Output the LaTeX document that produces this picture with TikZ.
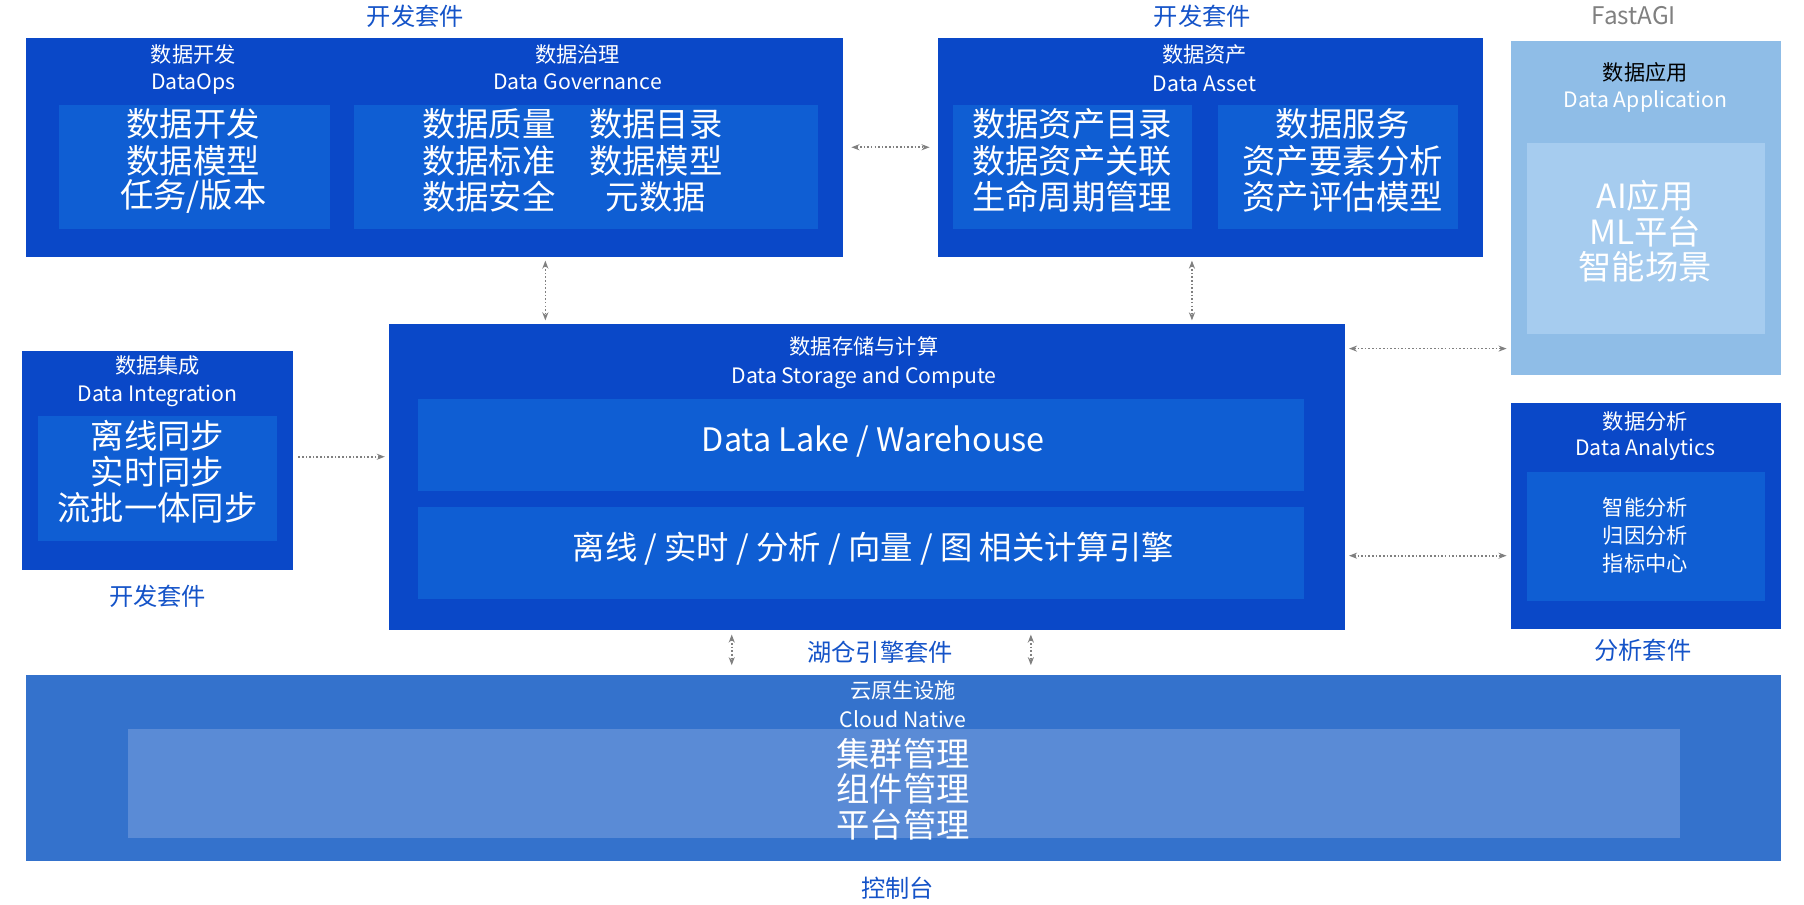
\documentclass[tikz,border=0pt]{standalone}
\usepackage{fontspec}
\setmainfont{Noto Sans CJK SC}
\usetikzlibrary{arrows.meta}
\definecolor{outerblue}{HTML}{0A48C8}
\definecolor{innerblue}{HTML}{0F5ED3}
\definecolor{cloudblue}{HTML}{3472CC}
\definecolor{cloudinner}{HTML}{5A8BD6}
\definecolor{agiblue}{HTML}{8FBDE7}
\definecolor{agiinner}{HTML}{A6CCEF}
\definecolor{labelblue}{HTML}{1453C8}
\tikzset{
  outer/.style={fill=outerblue, draw=none, inner sep=0pt, outer sep=0pt},
  inner/.style={fill=innerblue, draw=none, inner sep=0pt, outer sep=0pt},
  title/.style={text=white, font=\fontsize{10.5}{12}\selectfont},
  big/.style={text=white, font=\fontsize{16.5}{18}\selectfont},
  mid/.style={text=white, font=\fontsize{16}{18}\selectfont},
  small/.style={text=white, font=\fontsize{10.5}{12}\selectfont},
  kit/.style={text=labelblue, font=\fontsize{12}{14}\selectfont},
  link/.style={densely dotted, gray, thick, {Stealth[length=4pt]}-{Stealth[length=4pt]}, shorten >=2pt, shorten <=2pt},
}
\newcommand\blk[6]{\node[#2, minimum width={(#5-#3)*0.02cm}, minimum height={(#6-#4)*0.02cm}] (#1) at ({(#3+#5)/2},{(#4+#6)/2}) {};}
\begin{document}
\begin{tikzpicture}[x=0.02cm, y=-0.02cm]
\useasboundingbox (0,0) rectangle (1568,786);
% development kit
\blk{dev}{outer}{23}{33}{733}{223}
\blk{devin}{inner}{51}{91}{287}{199}
\blk{govin}{inner}{308}{91}{711}{199}
\node[kit] (kdev) at (361,14) {开发套件};
\node[title] (t1) at (168,47) {数据开发};
\node[title] (t2) at (168,73) {DataOps};
\node[title] (t3) at (502,47) {数据治理};
\node[title] (t4) at (502,71) {Data Governance};
\node[big] (d1) at (168,108) {数据开发};
\node[big] (d2) at (168,140) {数据模型};
\node[big] (d3) at (168,171) {任务/版本};
\node[big] (g1) at (425,108) {数据质量};
\node[big] (g2) at (425,140) {数据标准};
\node[big] (g3) at (425,171) {数据安全};
\node[big] (g4) at (570,108) {数据目录};
\node[big] (g5) at (570,140) {数据模型};
\node[big] (g6) at (570,171) {元数据};
% data asset
\blk{asset}{outer}{815}{33}{1289}{223}
\blk{assin1}{inner}{828}{91}{1036}{199}
\blk{assin2}{inner}{1059}{91}{1267}{199}
\node[kit] (kass) at (1045,14) {开发套件};
\node[title] (t5) at (1047,47) {数据资产};
\node[title] (t6) at (1047,73) {Data Asset};
\node[big] (a1) at (932,108) {数据资产目录};
\node[big] (a2) at (932,140) {数据资产关联};
\node[big] (a3) at (932,171) {生命周期管理};
\node[big] (a4) at (1167,108) {数据服务};
\node[big] (a5) at (1167,140) {资产要素分析};
\node[big] (a6) at (1167,171) {资产评估模型};
% fastagi
\blk{agi}{fill=agiblue, inner sep=0pt, outer sep=0pt}{1313}{36}{1548}{326}
\blk{agiin}{fill=agiinner, inner sep=0pt, outer sep=0pt}{1327}{124}{1534}{290}
\node[text=gray, font=\fontsize{12}{14}\selectfont] (kagi) at (1420,14) {FastAGI};
\node[font=\fontsize{10.5}{12}\selectfont] (t7) at (1430,63) {数据应用};
\node[title] (t8) at (1430,88) {Data Application};
\node[big] (f1) at (1430,170) {AI应用};
\node[big] (f2) at (1430,201) {ML平台};
\node[big] (f3) at (1430,232) {智能场景};
% integration
\blk{integ}{outer}{19}{305}{255}{495}
\blk{integin}{inner}{33}{362}{241}{470}
\node[title] (t9) at (137,318) {数据集成};
\node[title] (t10) at (137,344) {Data Integration};
\node[big] (i1) at (137,379) {离线同步};
\node[big] (i2) at (137,410) {实时同步};
\node[big] (i3) at (137,441) {流批一体同步};
\node[kit] (kint) at (137,518) {开发套件};
% storage and compute
\blk{store}{outer}{338}{282}{1169}{548}
\blk{lake}{inner}{363}{347}{1133}{427}
\blk{engine}{inner}{363}{441}{1133}{521}
\node[title] (t11) at (751,301) {数据存储与计算};
\node[title] (t12) at (751,328) {Data Storage and Compute};
\node[mid] (l1) at (759,384) {Data Lake / Warehouse};
\node[mid] (e1) at (759,477) {离线 / 实时 / 分析 / 向量 / 图 相关计算引擎};
\node[kit] (klake) at (765,567) {湖仓引擎套件};
% analytics
\blk{ana}{outer}{1313}{350}{1548}{547}
\blk{anain}{inner}{1327}{410}{1534}{522}
\node[title] (t13) at (1430,366) {数据分析};
\node[title] (t14) at (1430,391) {Data Analytics};
\node[small] (n1) at (1430,441) {智能分析};
\node[small] (n2) at (1430,465) {归因分析};
\node[small] (n3) at (1430,490) {指标中心};
\node[kit] (kana) at (1428,565) {分析套件};
% cloud native
\blk{cloud}{fill=cloudblue, inner sep=0pt, outer sep=0pt}{23}{587}{1548}{748}
\blk{cloudin}{fill=cloudinner, inner sep=0pt, outer sep=0pt}{111}{634}{1460}{728}
\node[title] (t15) at (785,600) {云原生设施};
\node[title] (t16) at (785,625) {Cloud Native};
\node[big] (c1) at (785,655) {集群管理};
\node[big] (c2) at (785,686) {组件管理};
\node[big] (c3) at (785,717) {平台管理};
\node[kit] (kcon) at (780,772) {控制台};
% links
\coordinate (xa) at (474,0);
\coordinate (xb) at (1036,0);
\coordinate (xc) at (636,0);
\coordinate (xd) at (896,0);
\coordinate (ya) at (0,303);
\coordinate (yb) at (0,483);
\coordinate (yc) at (0,397);
\draw[link, shorten >=4pt, shorten <=4pt] (dev.east) -- (asset.west);
\draw[link] (dev.south -| xa) -- (store.north -| xa);
\draw[link] (asset.south -| xb) -- (store.north -| xb);
\draw[link] (store.east |- ya) -- (agi.west |- ya);
\draw[link] (store.east |- yb) -- (ana.west |- yb);
\draw[link, {Stealth[length=4pt]}-] (store.west |- yc) -- (integ.east |- yc);
\draw[link, shorten >=5pt, shorten <=2pt] (store.south -| xc) -- (cloud.north -| xc);
\draw[link, shorten >=5pt, shorten <=2pt] (store.south -| xd) -- (cloud.north -| xd);
\end{tikzpicture}
\end{document}
